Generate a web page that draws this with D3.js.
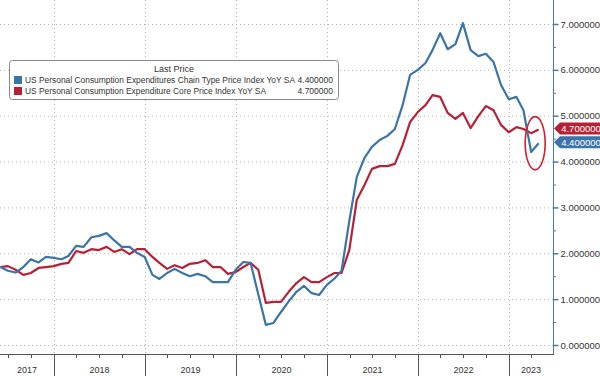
<!DOCTYPE html>
<html>
<head>
<meta charset="utf-8">
<script src="https://cdn.jsdelivr.net/npm/d3@7"></script>
<style>
  body { margin: 0; background: #fff; }
  svg { font-family: "Liberation Sans", Arial, sans-serif; }
</style>
</head>
<body>
<div id="chart"></div>
<script>
// monthly data, May 2017 .. Apr 2023 (plotted at month end)
const firstMonth = new Date(2017, 4, 1);
const lastMonth = new Date(2023, 3, 1);

const headline = [
  1.70, 1.62, 1.58, 1.70, 1.87, 1.80, 1.92, 1.90,            // 2017
  1.87, 1.94, 2.16, 2.14, 2.35, 2.38, 2.44, 2.28, 2.14, 2.14, 2.01, 1.92, // 2018
  1.53, 1.44, 1.57, 1.66, 1.57, 1.50, 1.55, 1.50, 1.37, 1.37, 1.37, 1.64, // 2019
  1.81, 1.79, 1.10, 0.44, 0.48, 0.72, 0.95, 1.16, 1.29, 1.13, 1.09, 1.31, // 2020
  1.45, 1.62, 2.70, 3.66, 4.08, 4.32, 4.47, 4.56, 4.71, 5.23, 5.89, 6.00, // 2021
  6.15, 6.43, 6.80, 6.45, 6.56, 7.02, 6.43, 6.30, 6.35, 6.17, 5.67, 5.36, // 2022
  5.41, 5.12, 4.21, 4.40                                      // 2023
];

const core = [
  1.70, 1.72, 1.64, 1.53, 1.57, 1.68, 1.70, 1.72,
  1.77, 1.79, 2.05, 2.01, 2.09, 2.07, 2.14, 2.03, 2.09, 1.98, 2.09, 2.09,
  1.92, 1.79, 1.66, 1.74, 1.68, 1.77, 1.79, 1.85, 1.70, 1.70, 1.55, 1.59,
  1.70, 1.79, 1.64, 0.92, 0.94, 0.94, 1.16, 1.35, 1.48, 1.37, 1.37, 1.48,
  1.57, 1.57, 2.07, 3.16, 3.49, 3.84, 3.90, 3.90, 3.95, 4.36, 4.86, 5.08,
  5.23, 5.45, 5.41, 5.06, 4.93, 5.06, 4.73, 4.99, 5.21, 5.12, 4.80, 4.64,
  4.75, 4.71, 4.62, 4.70
];

const seriesNames = [
  "US Personal Consumption Expenditures Chain Type Price Index YoY SA",
  "US Personal Consumption Expenditure Core Price Index YoY SA"
];
const lastValues = [4.4, 4.7];
const colours = ["#3b74a8", "#b72136"];
const years = [2017, 2018, 2019, 2020, 2021, 2022, 2023];
const yTicks = [0, 1, 2, 3, 4, 5, 6, 7];

const W = 600, H = 376;
const plotRight = 553, plotBottom = 354;

const svg = d3.select("#chart").append("svg")
  .attr("width", W).attr("height", H);

const x = d3.scaleTime()
  .domain([new Date(2018, 0, 1), new Date(2023, 0, 1)])
  .range([54, 509]);
const y = d3.scaleLinear()
  .domain([0, 7])
  .range([345, 24]);

const months = d3.timeMonth.range(firstMonth, d3.timeMonth.offset(lastMonth, 1));
const monthEnd = d => new Date(d.getFullYear(), d.getMonth() + 1, 0);

// grid
const grid = svg.append("g").attr("stroke", "#b4b4b4").attr("stroke-dasharray", "1,3");
grid.selectAll(".hg").data(yTicks).enter().append("line")
  .attr("x1", 0).attr("x2", plotRight)
  .attr("y1", d => y(d) + 0.5).attr("y2", d => y(d) + 0.5);
grid.selectAll(".vg").data(years.slice(1)).enter().append("line")
  .attr("x1", d => Math.round(x(new Date(d, 0, 1))) + 0.5)
  .attr("x2", d => Math.round(x(new Date(d, 0, 1))) + 0.5)
  .attr("y1", 0).attr("y2", plotBottom);

// lines
const line = d3.line()
  .x((d, i) => x(monthEnd(months[i])))
  .y(d => y(d));

svg.append("defs").append("clipPath").attr("id", "clip")
  .append("rect").attr("x", 0).attr("y", 0).attr("width", plotRight).attr("height", plotBottom);

const lines = svg.append("g").attr("clip-path", "url(#clip)");
[core, headline].forEach((s, k) => {
  lines.append("path")
    .datum(s)
    .attr("fill", "none")
    .attr("stroke", k === 0 ? colours[1] : colours[0])
    .attr("stroke-width", 2.2)
    .attr("stroke-linejoin", "round")
    .attr("d", line);
});

// annotation ellipse around the last points
const lastX = x(monthEnd(months[months.length - 2]));
svg.append("ellipse")
  .attr("cx", lastX + 4)
  .attr("cy", y(4.4))
  .attr("rx", 10)
  .attr("ry", y(3.82) - y(4.4))
  .attr("fill", "none")
  .attr("stroke", "#d4202f")
  .attr("stroke-width", 1.6);

// right axis
const axisCol = "#4a7cab";
svg.append("line")
  .attr("x1", plotRight + 0.5).attr("x2", plotRight + 0.5)
  .attr("y1", 0).attr("y2", plotBottom)
  .attr("stroke", axisCol).attr("stroke-width", 1);

const yAxis = d3.axisRight(y)
  .tickValues(yTicks)
  .tickSize(5)
  .tickPadding(2)
  .tickFormat(d3.format(".6f"));
const ya = svg.append("g")
  .attr("transform", `translate(${plotRight + 0.5},0)`)
  .call(yAxis);
ya.select(".domain").remove();
ya.selectAll(".tick line").attr("stroke", axisCol).attr("stroke-width", 1.5);
ya.selectAll(".tick text").attr("fill", "#333").attr("font-size", 9.5)
  .attr("font-family", "'Liberation Sans', Arial, sans-serif");

const minorY = d3.range(0.5, 7.5, 1);
svg.append("g").selectAll("line").data(minorY).enter().append("line")
  .attr("x1", plotRight).attr("x2", plotRight + 3)
  .attr("y1", d => y(d) + 0.5).attr("y2", d => y(d) + 0.5)
  .attr("stroke", axisCol);

// last value tags
const tags = svg.append("g");
[1, 0].forEach(k => {
  const ty = y(lastValues[k]) - 1;
  const g = tags.append("g").attr("transform", `translate(${plotRight + 1},${ty})`);
  g.append("path")
    .attr("d", "M0,0 L6,-6 L47,-6 L47,6 L6,6 Z")
    .attr("fill", colours[k]);
  g.append("text")
    .attr("x", 27).attr("y", 3.5)
    .attr("text-anchor", "middle")
    .attr("fill", "#fff")
    .attr("font-size", 9.5)
    .text(d3.format(".6f")(lastValues[k]));
});

// bottom axis
svg.append("line")
  .attr("x1", 0).attr("x2", plotRight + 1)
  .attr("y1", plotBottom + 0.5).attr("y2", plotBottom + 0.5)
  .attr("stroke", "#555");

const quarters = d3.timeMonth.every(3).range(new Date(2017, 6, 1), new Date(2023, 6, 1));
svg.append("g").selectAll("line").data(quarters).enter().append("line")
  .attr("x1", d => Math.round(x(d)) + 0.5).attr("x2", d => Math.round(x(d)) + 0.5)
  .attr("y1", plotBottom).attr("y2", d => d.getMonth() === 0 ? H : plotBottom + 4)
  .attr("stroke", "#555");

svg.append("g").selectAll("text").data(years).enter().append("text")
  .attr("x", d => {
    const a = Math.max(0, x(new Date(d, 0, 1)));
    const b = Math.min(plotRight, x(new Date(d + 1, 0, 1)));
    return (a + b) / 2;
  })
  .attr("y", 373)
  .attr("text-anchor", "middle")
  .attr("font-size", 9)
  .attr("fill", "#333")
  .text(d => d);

// legend
const nameWidths = [270, 241];
const lg = svg.append("g").attr("transform", "translate(9,60)");
lg.append("rect")
  .attr("x", 0.5).attr("y", 0.5).attr("width", 329).attr("height", 39)
  .attr("rx", 3)
  .attr("fill", "#fff").attr("stroke", "#8a8a8a");
lg.append("text")
  .attr("x", 165).attr("y", 12)
  .attr("text-anchor", "middle")
  .attr("font-size", 9).attr("fill", "#333")
  .text("Last Price");
seriesNames.forEach((name, i) => {
  const ry = 23 + i * 11;
  lg.append("rect")
    .attr("x", 5).attr("y", ry - 7).attr("width", 8).attr("height", 8)
    .attr("fill", colours[i]);
  lg.append("text")
    .attr("x", 16).attr("y", ry)
    .attr("font-size", 8.5).attr("fill", "#333")
    .attr("textLength", nameWidths[i])
    .attr("lengthAdjust", "spacingAndGlyphs")
    .text(name);
  lg.append("text")
    .attr("x", 324).attr("y", ry)
    .attr("text-anchor", "end")
    .attr("font-size", 8.5).attr("fill", "#333")
    .text(d3.format(".6f")(lastValues[i]));
});
</script>
</body>
</html>
